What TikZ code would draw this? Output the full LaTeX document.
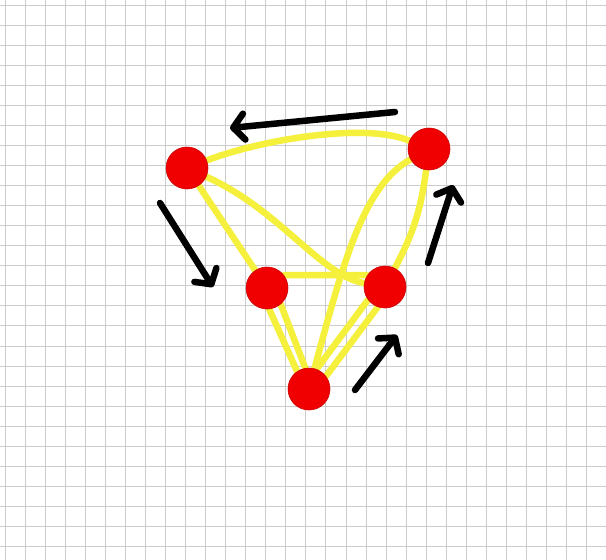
\documentclass[tikz,border=0pt]{standalone}
\usetikzlibrary{arrows.meta}
\pgfdeclarelayer{background}
\pgfsetlayers{background,main}
\definecolor{vred}{RGB}{240,0,0}
\definecolor{vyellow}{RGB}{244,240,60}
\definecolor{gridc}{RGB}{204,204,204}
\tikzset{
  vertex/.style={circle, fill=vred, draw=vred!85!black, line width=0.6pt, minimum size=42pt, inner sep=0pt},
  edge/.style={draw=vyellow, line width=6.5pt, line cap=round},
  bigarrow/.style={draw=black, line width=6.5pt, line cap=round, line join=round,
    -{Straight Barb[length=11pt, width=26pt, line cap=round, line join=round]}},
  gridline/.style={draw=gridc, line width=1pt}
}
\begin{document}
\begin{tikzpicture}[x=1pt, y=-1pt]
\useasboundingbox (0,0) rectangle (606,560);

\node[vertex] (A) at (187,168) {};
\node[vertex] (B) at (429,149) {};
\node[vertex] (C) at (267,288) {};
\node[vertex] (D) at (385,287) {};
\node[vertex] (E) at (309,389) {};

\begin{pgfonlayer}{background}
\fill[white] (0,0) rectangle (606,560);
\foreach \i in {0,...,30} \draw[gridline] ({5+20.06*\i},0) -- ({5+20.06*\i},560);
\foreach \j in {0,...,27} \draw[gridline] (0,{5+20.06*\j}) -- (606,{5+20.06*\j});
\draw[edge] (A) .. controls (260,140) and (365,122) .. (B);
\draw[edge] (A) -- (C);
\draw[edge] (A) .. controls (280,210) and (320,275) .. (D);
\draw[edge] (B) to[bend left=10] (D);
\draw[edge] (B) .. controls (365,185) and (345,255) .. (E);
\draw[edge] (C.37) -- (D.146);
\draw[edge] (C.-84) -- (E.124);
\draw[edge] (C.-50) -- (E.100);
\draw[edge] (D.-143) -- (E.69);
\draw[edge] (D.-110) -- (E.37);
\end{pgfonlayer}

\coordinate (t1) at (395,112); \coordinate (h1) at (230,128);
\coordinate (t2) at (160,203); \coordinate (h2) at (213,287);
\coordinate (t3) at (428,263); \coordinate (h3) at (453,185);
\coordinate (t4) at (355,390); \coordinate (h4) at (397,335);
\draw[bigarrow] (t1) -- (h1);
\draw[bigarrow] (t2) -- (h2);
\draw[bigarrow] (t3) -- (h3);
\draw[bigarrow] (t4) -- (h4);
\end{tikzpicture}
\end{document}
